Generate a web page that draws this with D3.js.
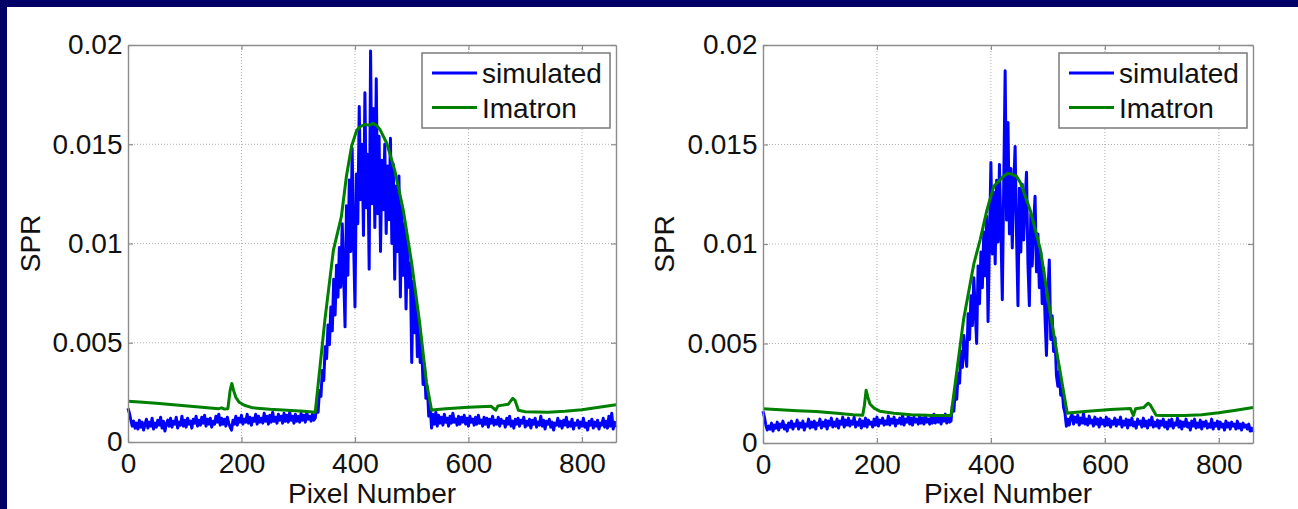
<!DOCTYPE html>
<html>
<head>
<meta charset="utf-8">
<script src="https://cdn.jsdelivr.net/npm/d3@7"></script>
<style>
  body { margin: 0; background: #000066; }
  svg { display: block; }
  text { font-family: "Liberation Sans", Arial, sans-serif; fill: #111; }
</style>
</head>
<body>
<svg id="chart" width="1298" height="509"></svg>
<script>
// axis ticks
var xTicks = [0, 200, 400, 600, 800];
var yTicks = [0, 0.005, 0.01, 0.015, 0.02];
var yTickLabels = ["0", "0.005", "0.01", "0.015", "0.02"];
var seriesNames = ["simulated", "Imatron"];

// simulated SPR (x 1e-3), one value every 2.5 pixels, pixel 0 to 860
var simStep = 2.5;
var sim1 = [
  1.7, 1.45, 1.1, 0.8, 1.05, 0.7, 0.95, 0.65, 1.1, 0.75,
  1.0, 0.6, 0.9, 1.15, 0.7, 1.0, 0.8, 1.2, 0.65, 0.95,
  0.75, 1.1, 0.85, 1.25, 0.7, 1.05, 0.55, 0.9, 1.1, 0.8,
  1.2, 0.75, 1.05, 0.9, 1.25, 0.7, 1.0, 0.85, 1.3, 0.8,
  1.1, 0.75, 1.2, 0.9, 1.05, 0.7, 1.15, 0.95, 1.3, 0.8,
  1.1, 0.85, 1.25, 0.95, 1.35, 0.8, 1.15, 0.9, 1.2, 0.75,
  1.05, 0.9, 1.3, 1.0, 1.4, 0.85, 1.2, 0.9, 1.15, 0.8,
  1.25, 0.95, 0.75, 0.6, 1.1, 0.9, 1.3, 0.85, 1.2, 1.0,
  1.35, 0.9, 1.15, 1.0, 1.4, 0.95, 1.25, 0.85, 1.2, 1.05,
  1.4, 0.9, 1.3, 1.0, 1.2, 0.95, 1.45, 1.05, 1.3, 0.9,
  1.35, 1.0, 1.5, 1.05, 1.25, 0.95, 1.4, 1.1, 1.3, 0.95,
  1.45, 1.05, 1.35, 1.0, 1.5, 1.1, 1.3, 0.95, 1.4, 1.05,
  1.3, 1.0, 1.45, 1.1, 1.35, 1.0, 1.5, 1.15, 1.3, 1.05,
  1.4, 1.1,
  1.2, 1.8, 1.5, 2.6, 2.3, 3.6, 3.1, 4.8, 4.2, 5.9,
  4.9, 6.8, 5.6, 8.2, 6.4, 8.9, 7.3, 9.8, 7.8, 11.0,
  8.5, 5.8, 11.9, 8.4, 13.2, 9.6, 14.8, 10.2, 6.8, 13.5,
  11.0, 16.9, 12.2, 15.0, 10.4, 17.6, 11.8, 14.5, 8.7, 19.7,
  12.0, 16.8, 10.8, 18.3, 11.5, 15.4, 9.6, 14.2, 11.7, 15.0,
  10.5, 13.9, 11.2, 15.3, 10.0, 14.0, 8.2, 12.9, 9.6, 13.4,
  7.3, 11.9, 8.4, 11.0, 6.7, 10.2, 7.8, 9.0, 4.0, 8.1,
  5.5, 7.2, 4.3, 6.0, 4.0, 4.8, 2.9, 3.9, 2.2, 2.8,
  1.3, 1.9, 0.7, 1.4, 0.9,
  1.5, 0.8, 1.35, 0.95, 1.25, 0.85, 1.4, 1.0, 1.2, 0.8,
  1.3, 0.95, 1.45, 1.0, 1.15, 0.85, 1.3, 0.9, 1.25, 1.0,
  1.35, 0.9, 1.2, 0.8, 1.3, 1.0, 1.15, 0.85, 1.25, 0.9,
  1.35, 0.95, 1.1, 0.8, 1.25, 0.9, 1.2, 0.75, 1.15, 0.95,
  1.3, 0.85, 1.1, 0.9, 1.25, 0.8, 1.15, 0.95, 1.05, 0.75,
  1.2, 0.9, 1.3, 0.8, 1.05, 0.7, 1.15, 0.9, 1.2, 0.8,
  1.1, 0.95, 1.25, 0.75, 1.05, 0.85, 1.15, 0.7, 1.1, 0.9,
  1.2, 0.75, 1.0, 0.85, 1.3, 0.8, 1.1, 0.65, 1.05, 0.9,
  1.15, 0.75, 1.0, 0.6, 0.95, 0.85, 1.2, 0.8, 1.05, 0.7,
  1.1, 0.85, 1.25, 0.75, 1.0, 0.8, 1.15, 0.65, 0.95, 0.85,
  1.1, 0.7, 1.0, 0.8, 1.2, 0.75, 0.95, 0.6, 1.05, 0.85,
  1.15, 0.7, 1.0, 0.8, 1.1, 0.65, 0.95, 0.85, 1.2, 0.75,
  1.05, 0.7, 1.3, 0.8, 1.45, 0.65, 1.0, 0.75
];
var sim2 = [
  1.6, 1.3, 0.9, 0.65, 0.85, 0.7, 1.0, 0.6, 0.9, 0.75,
  1.05, 0.65, 0.95, 0.8, 1.1, 0.7, 0.9, 0.6, 1.0, 0.8,
  1.1, 0.7, 0.95, 0.85, 1.15, 0.7, 1.0, 0.8, 1.1, 0.65,
  0.95, 0.85, 1.2, 0.75, 1.05, 0.8, 1.1, 0.7, 1.0, 0.9,
  1.2, 0.75, 1.05, 0.85, 1.15, 0.7, 1.1, 0.9, 1.25, 0.8,
  1.05, 0.85, 1.2, 0.75, 1.1, 0.95, 1.3, 0.8, 1.15, 0.9,
  1.25, 0.85, 1.1, 0.95, 1.3, 0.8, 1.05, 0.9, 1.2, 0.75,
  1.1, 0.85, 1.25, 0.8, 1.15, 0.95, 1.05, 0.8, 1.2, 0.9,
  1.3, 0.85, 1.15, 1.0, 1.25, 0.9, 1.1, 0.95, 1.35, 0.9,
  1.2, 1.0, 1.3, 0.85, 1.15, 1.0, 1.25, 0.95, 1.4, 0.9,
  1.2, 1.05, 1.35, 0.95, 1.25, 0.9, 1.3, 1.05, 1.2, 0.95,
  1.35, 1.0, 1.25, 0.95, 1.4, 1.05, 1.2, 0.95, 1.3, 1.0,
  1.45, 1.0, 1.25, 1.05, 1.35, 0.95, 1.3, 1.1, 1.45, 1.0,
  1.3, 1.05,
  1.1, 1.9, 1.6, 2.7, 2.2, 3.5, 3.0, 4.6, 3.8, 5.4,
  4.5, 3.85, 6.5, 5.2, 7.4, 5.9, 8.3, 6.6, 5.0, 8.9,
  7.0, 9.6, 7.8, 10.6, 8.4, 11.4, 6.1, 10.2, 14.1, 9.5,
  12.6, 9.0, 13.2, 10.1, 14.0, 10.8, 7.2, 13.0, 18.7, 11.2,
  16.1, 10.5, 13.8, 9.8, 12.9, 14.9, 10.4, 6.9, 12.8, 9.6,
  13.0, 10.2, 12.2, 13.6, 9.0, 6.9, 11.5, 8.9, 11.0, 12.4,
  8.6, 10.5, 7.8, 9.6, 7.0, 8.8, 6.3, 4.4, 7.5, 9.2,
  5.2, 6.4, 4.6, 5.3, 3.4, 2.85, 3.6, 2.4, 2.7, 1.8,
  1.5, 0.84, 1.2, 0.9, 1.3,
  1.45, 0.95, 1.3, 1.05, 1.4, 0.9, 1.25, 1.0, 1.5, 0.95,
  1.2, 0.9, 1.35, 1.0, 1.15, 0.85, 1.3, 0.95, 1.2, 0.8,
  1.25, 0.95, 1.15, 0.85, 1.3, 0.9, 1.2, 0.8, 1.1, 0.95,
  1.25, 0.85, 1.15, 0.95, 1.3, 0.8, 1.1, 0.9, 1.2, 0.75,
  1.15, 0.9, 1.25, 0.85, 1.05, 0.75, 1.2, 0.95, 1.1, 0.8,
  1.25, 0.85, 1.1, 0.75, 1.15, 0.9, 1.3, 0.8, 1.05, 0.85,
  1.15, 0.75, 1.1, 0.9, 1.2, 0.8, 1.05, 0.7, 1.15, 0.85,
  1.2, 0.75, 1.0, 0.9, 1.25, 0.8, 1.1, 0.7, 1.05, 0.85,
  1.2, 0.8, 1.0, 0.65, 1.1, 0.85, 1.2, 0.75, 1.0, 0.8,
  1.15, 0.7, 1.05, 0.85, 1.1, 0.75, 0.95, 0.8, 1.2, 0.7,
  1.0, 0.85, 1.1, 0.7, 1.05, 0.8, 0.95, 0.65, 1.1, 0.8,
  1.0, 0.7, 1.05, 0.85, 0.95, 0.7, 1.1, 0.75, 0.95, 0.65,
  1.0, 0.8, 0.9, 0.7, 0.95, 0.6, 0.75, 0.55
];

// Imatron SPR (x 1e-3) at read-off pixel numbers
var ima1X = [0, 20, 50, 80, 110, 140, 160, 165, 170, 176, 180, 183, 186, 190, 196, 205, 220, 250, 280, 310,
  330, 347, 362, 376, 385, 394, 403, 410, 418, 425, 432, 438, 444, 456, 470, 485, 500, 514, 526, 535,
  540, 560, 600, 640, 648, 652, 670, 678, 682, 688, 700, 740, 770, 800, 830, 860];
var ima1Y = [2.05, 2.02, 1.95, 1.88, 1.8, 1.73, 1.68, 1.72, 1.66, 1.68, 2.6, 2.95, 2.6, 2.25, 2.0, 1.85, 1.72, 1.65, 1.6, 1.55,
  1.5, 6.15, 9.67, 11.35, 13.4, 14.9, 15.7, 15.9, 16.0, 15.95, 16.05, 15.95, 15.75, 15.05, 13.7, 11.7, 9.0, 6.0, 3.0, 1.6,
  1.62, 1.68, 1.75, 1.8, 1.6, 1.82, 1.9, 2.2, 2.1, 1.6, 1.52, 1.5, 1.55, 1.62, 1.75, 1.88];
var ima2X = [0, 30, 60, 93, 130, 158, 175, 178, 181, 184, 188, 195, 205, 230, 260, 300, 330,
  352, 370, 381, 393, 405, 422, 430, 437, 445, 452, 469, 487, 504, 519, 534,
  540, 570, 610, 645, 650, 654, 668, 676, 680, 690, 700, 740, 770, 800, 830, 860];
var ima2Y = [1.72, 1.67, 1.62, 1.58, 1.5, 1.42, 1.4, 1.9, 2.65, 2.3, 1.95, 1.75, 1.6, 1.5, 1.42, 1.38, 1.38,
  6.2, 9.0, 10.2, 11.7, 12.9, 13.4, 13.55, 13.5, 13.4, 13.06, 11.7, 9.7, 6.55, 4.0, 1.5,
  1.52, 1.6, 1.68, 1.73, 1.38, 1.72, 1.78, 2.0, 1.9, 1.4, 1.38, 1.38, 1.42, 1.52, 1.65, 1.78];

// layout of the two panels
var panels = [
  { sim: sim1, imaX: ima1X, imaY: ima1Y, left: 128, right: 616, top: 45, bottom: 442, ylabelX: 40 },
  { sim: sim2, imaX: ima2X, imaY: ima2Y, left: 763, right: 1253, top: 45, bottom: 443, ylabelX: 674 }
];

var colors = ["#0000ff", "#008000"];
var lineWidth = 3;
var fontSize = 28;

var svg = d3.select("#chart");

// navy frame on top and left, white page
svg.append("rect").attr("width", 1298).attr("height", 509).attr("fill", "#000066");
svg.append("rect").attr("x", 7).attr("y", 7).attr("width", 1291).attr("height", 502).attr("fill", "#ffffff");

panels.forEach(function(p, k) {
  var x = d3.scaleLinear().domain([0, 860]).range([p.left, p.right]);
  var y = d3.scaleLinear().domain([0, 0.02]).range([p.bottom, p.top]);

  var g = svg.append("g");

  // dotted grid
  g.selectAll(".gx").data(xTicks.slice(1)).enter().append("line")
    .attr("x1", function(d) { return x(d); }).attr("x2", function(d) { return x(d); })
    .attr("y1", p.top).attr("y2", p.bottom)
    .attr("stroke", "#b0b0b0").attr("stroke-width", 1).attr("stroke-dasharray", "1,2");
  g.selectAll(".gy").data(yTicks.slice(1, -1)).enter().append("line")
    .attr("y1", function(d) { return y(d); }).attr("y2", function(d) { return y(d); })
    .attr("x1", p.left).attr("x2", p.right)
    .attr("stroke", "#b0b0b0").attr("stroke-width", 1).attr("stroke-dasharray", "1,2");

  // simulated line
  var simLine = d3.line()
    .x(function(d, i) { return x(i * simStep); })
    .y(function(d) { return y(d * 1e-3); });
  g.append("path").datum(p.sim)
    .attr("d", simLine)
    .attr("fill", "none").attr("stroke", colors[0]).attr("stroke-width", lineWidth)
    .attr("stroke-linejoin", "round");

  // Imatron line
  var imaLine = d3.line()
    .x(function(d, i) { return x(p.imaX[i]); })
    .y(function(d) { return y(d * 1e-3); });
  g.append("path").datum(p.imaY)
    .attr("d", imaLine)
    .attr("fill", "none").attr("stroke", colors[1]).attr("stroke-width", lineWidth)
    .attr("stroke-linejoin", "round");

  // axes with inward ticks
  var axB = g.append("g").attr("transform", "translate(0," + p.bottom + ")")
    .call(d3.axisBottom(x).tickValues(xTicks).tickSizeInner(-5).tickSizeOuter(0).tickPadding(11)
      .tickFormat(function(d) { return String(d); }));
  var axL = g.append("g").attr("transform", "translate(" + p.left + ",0)")
    .call(d3.axisLeft(y).tickValues(yTicks).tickSizeInner(-5).tickSizeOuter(0).tickPadding(5.5)
      .tickFormat(function(d, i) { return yTickLabels[i]; }));
  var axT = g.append("g").attr("transform", "translate(0," + p.top + ")")
    .call(d3.axisTop(x).tickValues(xTicks).tickSizeInner(-5).tickSizeOuter(0).tickFormat(""));
  var axR = g.append("g").attr("transform", "translate(" + p.right + ",0)")
    .call(d3.axisRight(y).tickValues(yTicks).tickSizeInner(-5).tickSizeOuter(0).tickFormat(""));

  [axB, axL, axT, axR].forEach(function(a) {
    a.select(".domain").attr("stroke", "#8c8c8c").attr("stroke-width", 1.4);
    a.selectAll(".tick line").attr("stroke", "#8c8c8c").attr("stroke-width", 1.2);
    a.selectAll(".tick text").attr("font-size", fontSize)
      .attr("font-family", "Liberation Sans, Arial, sans-serif").attr("fill", "#111");
  });

  // axis labels
  g.append("text")
    .attr("x", (p.left + p.right) / 2).attr("y", 503)
    .attr("text-anchor", "middle").attr("font-size", fontSize)
    .text("Pixel Number");
  g.append("text")
    .attr("transform", "translate(" + p.ylabelX + "," + ((p.top + p.bottom) / 2) + ") rotate(-90)")
    .attr("text-anchor", "middle").attr("font-size", fontSize)
    .text("SPR");

  // legend
  var lx = p.right - 194, ly = p.top + 8;
  var legend = g.append("g").attr("transform", "translate(" + lx + "," + ly + ")");
  legend.append("rect").attr("width", 188).attr("height", 75)
    .attr("fill", "#ffffff").attr("stroke", "#7a7a7a").attr("stroke-width", 1.5);
  seriesNames.forEach(function(name, i) {
    var row = legend.append("g").attr("transform", "translate(0," + (20 + i * 34.5) + ")");
    row.append("line").attr("x1", 10).attr("x2", 55).attr("y1", 0).attr("y2", 0)
      .attr("stroke", colors[i]).attr("stroke-width", lineWidth);
    row.append("text").attr("x", 60).attr("y", 10).attr("font-size", fontSize).text(name);
  });
});
</script>
</body>
</html>
